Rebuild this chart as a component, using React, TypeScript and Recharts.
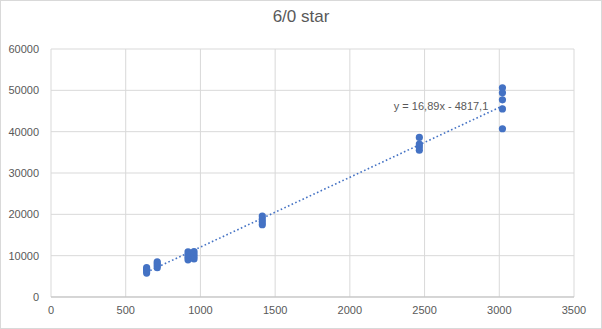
import {
  ScatterChart,
  Scatter,
  XAxis,
  YAxis,
  CartesianGrid,
  ReferenceLine,
  ReferenceDot,
} from "recharts";

// x = size, y = measured value, grouped by cluster
const sizes = [
  640, 640, 640, 640,
  711, 711, 711, 711,
  917, 917, 917, 917,
  957, 957, 957, 957,
  1414, 1414, 1414, 1414,
  2465, 2465, 2465, 2465,
  3021, 3021, 3021, 3021, 3021,
];
const values = [
  5800, 6300, 6700, 7100,
  7100, 7600, 8100, 8500,
  9000, 9600, 10200, 10900,
  9200, 9800, 10400, 11000,
  17500, 18200, 18900, 19600,
  35500, 36300, 37000, 38600,
  40700, 45500, 47700, 49400, 50600,
];

const xTicks = [0, 500, 1000, 1500, 2000, 2500, 3000, 3500];
const yTicks = [0, 10000, 20000, 30000, 40000, 50000, 60000];

// linear trendline from the sheet
const slope = 16.89;
const intercept = -4817.1;
const trendLabel = "y = 16,89x - 4817,1";

const BLUE = "#4472C4";
const TEXT = "#595959";
const GRID = "#d9d9d9";
const FONT = "'Liberation Sans', Arial, sans-serif";

const points = sizes.map((x, i) => ({ x, y: values[i] }));
const minX = Math.min(...sizes);
const maxX = Math.max(...sizes);

const Dot = (props: any) => (
  <circle cx={props.cx} cy={props.cy} r={3.6} fill={BLUE} />
);

export default function App() {
  return (
    <div
      style={{
        position: "absolute",
        left: 0,
        top: 0,
        width: 602,
        height: 329,
        boxSizing: "border-box",
        border: "1px solid #d9d9d9",
        background: "#fff",
        fontFamily: FONT,
      }}
    >
      <div
        style={{
          position: "absolute",
          left: 0,
          top: 6,
          width: 600,
          textAlign: "center",
          fontSize: 17,
          color: TEXT,
        }}
      >
        6/0 star
      </div>
      <ScatterChart
        width={600}
        height={327}
        margin={{ top: 48, right: 27, bottom: 0, left: 0 }}
        style={{ position: "absolute", left: 0, top: 0 }}
      >
        <CartesianGrid stroke={GRID} />
        <XAxis
          type="number"
          dataKey="x"
          domain={[0, 3500]}
          ticks={xTicks}
          interval={0}
          tickSize={0}
          tickMargin={9}
          height={31}
          axisLine={{ stroke: "#bfbfbf" }}
          tick={{ fontSize: 11, fill: TEXT, fontFamily: FONT }}
        />
        <YAxis
          type="number"
          dataKey="y"
          domain={[0, 60000]}
          ticks={yTicks}
          interval={0}
          width={50}
          tickSize={0}
          tickMargin={12}
          axisLine={false}
          tick={{ fontSize: 11, fill: TEXT, fontFamily: FONT }}
        />
        <ReferenceLine
          segment={[
            { x: minX, y: slope * minX + intercept },
            { x: maxX, y: slope * maxX + intercept },
          ]}
          stroke={BLUE}
          strokeWidth={1.6}
          strokeDasharray="1.6 2.4"
        />
        <Scatter
          data={points}
          shape={Dot}
          isAnimationActive={false}
        />
        <ReferenceDot
          x={2960}
          y={46300}
          r={0}
          fill="none"
          stroke="none"
          label={{
            value: trendLabel,
            position: "left",
            fontSize: 11,
            fill: TEXT,
            fontFamily: FONT,
          }}
        />
      </ScatterChart>
    </div>
  );
}
